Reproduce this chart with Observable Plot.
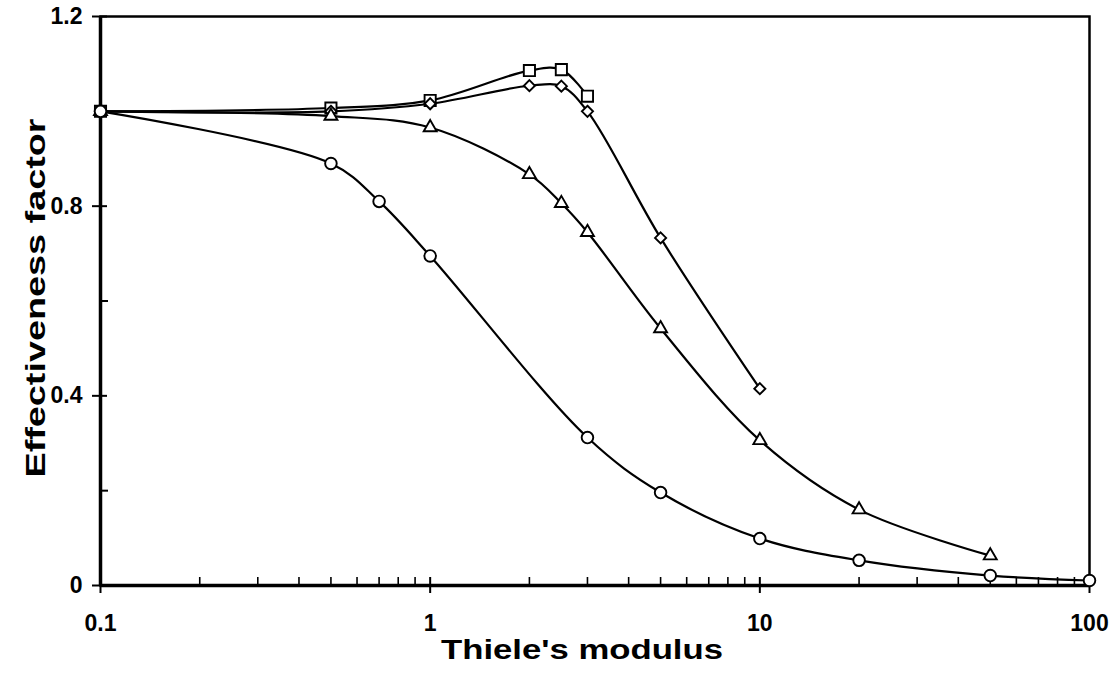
<!DOCTYPE html>
<html>
<head>
<meta charset="utf-8">
<script src="https://cdn.jsdelivr.net/npm/d3@7"></script>
<script src="https://cdn.jsdelivr.net/npm/@observablehq/plot@0.6"></script>
<style>
  body { margin: 0; background: #fff; }
</style>
</head>
<body>
<div id="chart"></div>
<script>
// ---- data ----
const circleX   = [0.1, 0.5, 0.7, 1, 3, 5, 10, 20, 50, 100];
const circleY   = [1.0, 0.89, 0.81, 0.695, 0.312, 0.196, 0.099, 0.053, 0.021, 0.0105];

const triangleX = [0.1, 0.5, 1, 2, 2.5, 3, 5, 10, 20, 50];
const triangleY = [1.0, 0.99, 0.966, 0.867, 0.806, 0.745, 0.542, 0.306, 0.16, 0.063];

const diamondX  = [0.1, 0.5, 1, 2, 2.5, 3, 5, 10];
const diamondY  = [1.0, 1.0, 1.016, 1.054, 1.053, 1.0, 0.733, 0.415];

const squareX   = [0.1, 0.5, 1, 2, 2.5, 3];
const squareY   = [1.0, 1.007, 1.023, 1.086, 1.088, 1.032];

const xTicks = [0.1, 1, 10, 100];
const xTickLabels = ["0.1", "1", "10", "100"];
const xMinorMultipliers = [2, 3, 4, 5, 6, 7, 8, 9];
const yTicks = [0, 0.4, 0.8, 1.2];
const yTickLabels = ["0", "0.4", "0.8", "1.2"];
const yMinor = [0.2, 0.6, 1.0];

const xTitle = "Thiele's modulus";
const yTitle = "Effectiveness factor";

// ---- layout ----
const W = 1118, H = 691;
const mL = 100, mR = 29, mT = 16, mB = 106;
const plotW = W - mL - mR, plotH = H - mT - mB;
const FONT = "'Liberation Sans', Arial, Helvetica, sans-serif";

function rows(name, xs, ys) { return xs.map((x, i) => ({series: name, x, y: ys[i]})); }
const data = [
  ...rows("circle", circleX, circleY),
  ...rows("triangle", triangleX, triangleY),
  ...rows("diamond", diamondX, diamondY),
  ...rows("square", squareX, squareY)
];

const symbolFor = {circle: "circle", triangle: "triangle", diamond: "diamond2", square: "square"};
const rFor = {circle: 5.8, triangle: 4.8, diamond: 5.0, square: 6.3};

const xMinor = [];
for (const decade of xTicks.slice(0, -1)) for (const m of xMinorMultipliers) xMinor.push(decade * m);

const xFmt = d => xTickLabels[xTicks.findIndex(t => Math.abs(t - d) < 1e-9)];
const yFmt = d => yTickLabels[yTicks.findIndex(t => Math.abs(t - d) < 1e-9)];

const dotMarks = ["square", "diamond", "triangle", "circle"].map(s =>
  Plot.dot(data.filter(d => d.series === s), {
    x: "x", y: "y", symbol: symbolFor[s], r: rFor[s],
    fill: "white", stroke: "black", strokeWidth: 1.9
  })
);

const chart = Plot.plot({
  width: W, height: H,
  marginLeft: mL, marginRight: mR, marginTop: mT, marginBottom: mB,
  style: {fontFamily: FONT, fontWeight: "bold", fontSize: "23px"},
  x: {type: "log", domain: [xTicks[0], xTicks[xTicks.length - 1]], axis: null},
  y: {domain: [yTicks[0], yTicks[yTicks.length - 1]], axis: null},
  marks: [
    // axes: labels + outward ticks
    Plot.axisX(xTicks, {anchor: "bottom", tickSize: 8, tickPadding: 21, tickFormat: xFmt, fontSize: 23, label: null}),
    Plot.axisY(yTicks, {anchor: "left", tickSize: 8, tickPadding: 10, tickFormat: yFmt, fontSize: 23, label: null}),
    // inward parts of major ticks, and minor ticks
    Plot.tickX(xTicks, {x: d => d, insetTop: plotH - 8, stroke: "black", strokeWidth: 2}),
    Plot.tickX(xMinor, {x: d => d, insetTop: plotH - 8, stroke: "black", strokeWidth: 1.6}),
    Plot.tickY(yTicks, {y: d => d, insetRight: plotW - 7, stroke: "black", strokeWidth: 2}),
    Plot.tickY(yMinor, {y: d => d, insetRight: plotW - 8, stroke: "black", strokeWidth: 2}),
    // frame
    Plot.frame({stroke: "black", strokeWidth: 2.5}),
    Plot.ruleX([xTicks[0]], {stroke: "black", strokeWidth: 3.5}),
    Plot.ruleY([yTicks[0]], {stroke: "black", strokeWidth: 3.5}),
    // curves
    Plot.line(data, {x: "x", y: "y", z: "series", curve: "catmull-rom", stroke: "black", strokeWidth: 2.2}),
    ...dotMarks,
    // axis titles
    Plot.text([xTitle], {text: d => d, frameAnchor: "bottom", lineAnchor: "middle", textAnchor: "middle", dy: 65, dx: -13, fontSize: 28, fontWeight: "bold", fill: "black"}),
    Plot.text([yTitle], {text: d => d, frameAnchor: "left", lineAnchor: "middle", textAnchor: "middle", rotate: -90, dx: -64, dy: -3, fontSize: 28, fontWeight: "bold", fill: "black"})
  ]
});

document.getElementById("chart").appendChild(chart);

// thicker axis tick strokes
chart.querySelectorAll('g[aria-label$="-axis tick"]').forEach(g => g.setAttribute("stroke-width", 2));

// stretch the titles horizontally like the reference's wide bold type
chart.querySelectorAll("text").forEach(t => {
  const s = t.textContent;
  if (s === xTitle) { t.setAttribute("textLength", 282); t.setAttribute("lengthAdjust", "spacingAndGlyphs"); }
  else if (s === yTitle) { t.setAttribute("textLength", 359); t.setAttribute("lengthAdjust", "spacingAndGlyphs"); }
});
</script>
</body>
</html>
